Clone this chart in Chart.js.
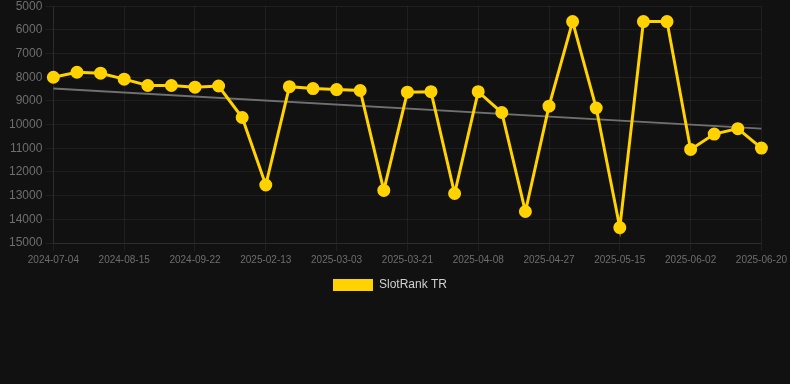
<!DOCTYPE html>
<html>
<head>
<meta charset="UTF-8">
<title>SlotRank TR</title>
<script src="https://cdn.jsdelivr.net/npm/chart.js"></script>
<style>
  html, body { margin: 0; padding: 0; background: #111111; overflow: hidden; }
  .chart-box { position: relative; width: 790px; height: 305px; margin-top: -4px; }
</style>
</head>
<body>
<div class="chart-box"><canvas id="rankChart"></canvas></div>
<script>
// dates (only every 3rd one is printed on the axis)
const dates = [
  '2024-07-04', '2024-07-18', '2024-08-01', '2024-08-15', '2024-08-28', '2024-09-10',
  '2024-09-22', '2024-10-06', '2025-01-30', '2025-02-13', '2025-02-19', '2025-02-25',
  '2025-03-03', '2025-03-09', '2025-03-15', '2025-03-21', '2025-03-27', '2025-04-02',
  '2025-04-08', '2025-04-14', '2025-04-21', '2025-04-27', '2025-05-03', '2025-05-09',
  '2025-05-15', '2025-05-21', '2025-05-27', '2025-06-02', '2025-06-08', '2025-06-14',
  '2025-06-20'
];

// rank values
const rankTR = [
  8000, 7790, 7830, 8080, 8350, 8350, 8420, 8370, 9700, 12550,
  8400, 8480, 8520, 8560, 12780, 8630, 8610, 12910, 8610, 9490,
  13670, 9220, 5650, 9300, 14350, 5650, 5650, 11050, 10400, 10170,
  10990
];

// trend line: only the two ends, the gap is spanned
const trendStart = 8480;
const trendEnd = 10170;
const trend = dates.map((d, i) => i === 0 ? trendStart : (i === dates.length - 1 ? trendEnd : null));

const yMin = 5000;
const yMax = 15000;
const yStep = 1000;

const gridColor = 'rgba(255,255,255,0.06)';
const gold = '#FFD200';
const tickColor = '#6e6e6e';
const fontFamily = 'Liberation Sans, Arial, sans-serif';

const ctx = document.getElementById('rankChart').getContext('2d');
new Chart(ctx, {
  type: 'line',
  data: {
    labels: dates,
    datasets: [
      {
        label: 'SlotRank TR',
        data: rankTR,
        borderColor: gold,
        backgroundColor: gold,
        borderWidth: 3,
        pointRadius: 5,
        pointHoverRadius: 6,
        pointBackgroundColor: gold,
        pointBorderColor: gold,
        tension: 0
      },
      {
        label: 'trend',
        data: trend,
        borderColor: '#707070',
        borderWidth: 2,
        pointRadius: 0,
        spanGaps: true,
        fill: false
      }
    ]
  },
  options: {
    responsive: true,
    maintainAspectRatio: false,
    animation: false,
    layout: { padding: { left: 6, right: 16 } },
    scales: {
      y: {
        reverse: true,
        min: yMin,
        max: yMax,
        ticks: {
          stepSize: yStep,
          color: tickColor,
          font: { family: fontFamily, size: 12 },
          callback: value => String(value)
        },
        grid: { color: gridColor },
        border: { color: gridColor }
      },
      x: {
        ticks: {
          autoSkip: false,
          maxRotation: 0,
          color: tickColor,
          font: { family: fontFamily, size: 10 },
          callback: function(value, index) {
            return index % 3 === 0 ? this.getLabelForValue(value) : '';
          }
        },
        grid: {
          color: c => (c.index % 3 === 0 ? gridColor : 'transparent')
        },
        border: { color: gridColor }
      }
    },
    plugins: {
      legend: {
        position: 'bottom',
        labels: {
          color: '#d0d0d0',
          boxWidth: 40,
          boxHeight: 12,
          font: { family: fontFamily, size: 12 },
          filter: item => item.text !== 'trend',
          generateLabels: chart => Chart.defaults.plugins.legend.labels.generateLabels(chart)
            .map(item => Object.assign(item, { lineWidth: 0 }))
        }
      },
      tooltip: { enabled: false }
    }
  }
});
</script>
</body>
</html>
